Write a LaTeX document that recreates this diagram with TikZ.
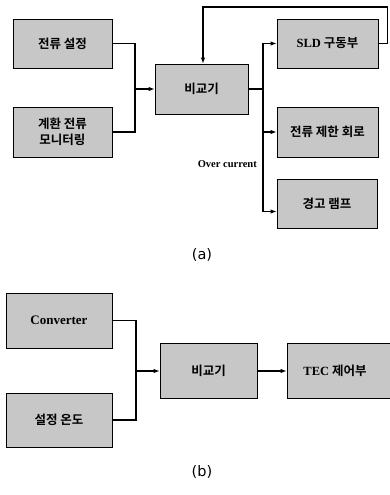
\documentclass[tikz,border=0pt]{standalone}
\usepackage{fontspec}
\setmainfont{Liberation Serif}
\newfontfamily\kr{Noto Sans CJK KR}[BoldFont={Noto Sans CJK KR Bold}]
\newfontfamily\capfont{DejaVu Sans}
\usetikzlibrary{arrows.meta}
\begin{document}
\begin{tikzpicture}[x=1pt,y=-1pt,
  blk/.style={draw=black, line width=0.8pt, fill=black!22, minimum width=99pt, minimum height=49pt,
    inner sep=0pt, align=center, font=\kr\bfseries\fontsize{12.5}{16}\selectfont},
  wire/.style={line width=1.1pt},
  arr/.style={wire,-{Latex[length=6pt,width=4.5pt]}},
  sublabel/.style={font=\capfont\fontsize{14.5}{16}\selectfont},
]
\useasboundingbox (0,0) rectangle (390,495);
\clip (0,0) rectangle (390,495);
% ---------- (a)
\node[blk] (a1) at (62.5,43.5) {전류 설정};
\node[blk, minimum height=50pt] (a2) at (62.5,132) {계환 전류\\모니터링};
\node[blk, minimum width=93pt, minimum height=50pt] (cmp) at (201.5,89) {비교기};
\node[blk, minimum width=101pt] (sld) at (327.5,43.5) {{\rmfamily SLD} 구동부};
\node[blk, minimum width=101pt, minimum height=50pt] (lim) at (327.5,132) {전류 제한 회로};
\node[blk, minimum width=100pt] (lamp) at (327,203.5) {경고 램프};
\coordinate (ja) at (135,89);
\coordinate (bus) at (263,89);
\coordinate (lampin) at ([yshift=-8pt]lamp.west);
\draw[wire] (a1.east) -| (ja);
\draw[wire] (a2.east) -| (ja);
\draw[arr] (ja) -- (cmp.west);
\draw[wire] (cmp.east) -- (bus);
\draw[arr] (bus) |- (sld.west);
\draw[arr] (bus) |- (lim.west);
\draw[arr] (bus) |- (lampin);
\draw[arr] (sld.east) -- ++(9,0) -- ++(0,-36.5) -| ([xshift=1.5pt]cmp.north);
\node[font=\bfseries\fontsize{10.5}{12}\selectfont, anchor=east, inner sep=0pt] (oc) at (257,164) {Over current};
\node[sublabel] (la) at (202,255) {(a)};
% ---------- (b)
\node[blk, minimum width=106pt, minimum height=55pt] (conv) at (59,320.5) {{\rmfamily\fontsize{13}{16}\selectfont Converter}};
\node[blk, minimum width=106pt, minimum height=54pt] (set) at (59,420) {설정 온도};
\coordinate (jb) at (136,371);
\draw[wire] (conv.east) -| (jb);
\draw[wire] (set.east) -| (jb);
\node[blk, minimum width=97pt, minimum height=55pt] (cmp2) at (208.5,371) {비교기};
\draw[arr] (jb) -- (cmp2.west);
\node[blk, minimum width=108pt, minimum height=55pt] (tec) at (341,371) {{\rmfamily TEC} 제어부\hspace*{12pt}};
\draw[arr] (cmp2.east) -- (tec.west);
\node[sublabel] (lb) at (202,472) {(b)};
\end{tikzpicture}
\end{document}
